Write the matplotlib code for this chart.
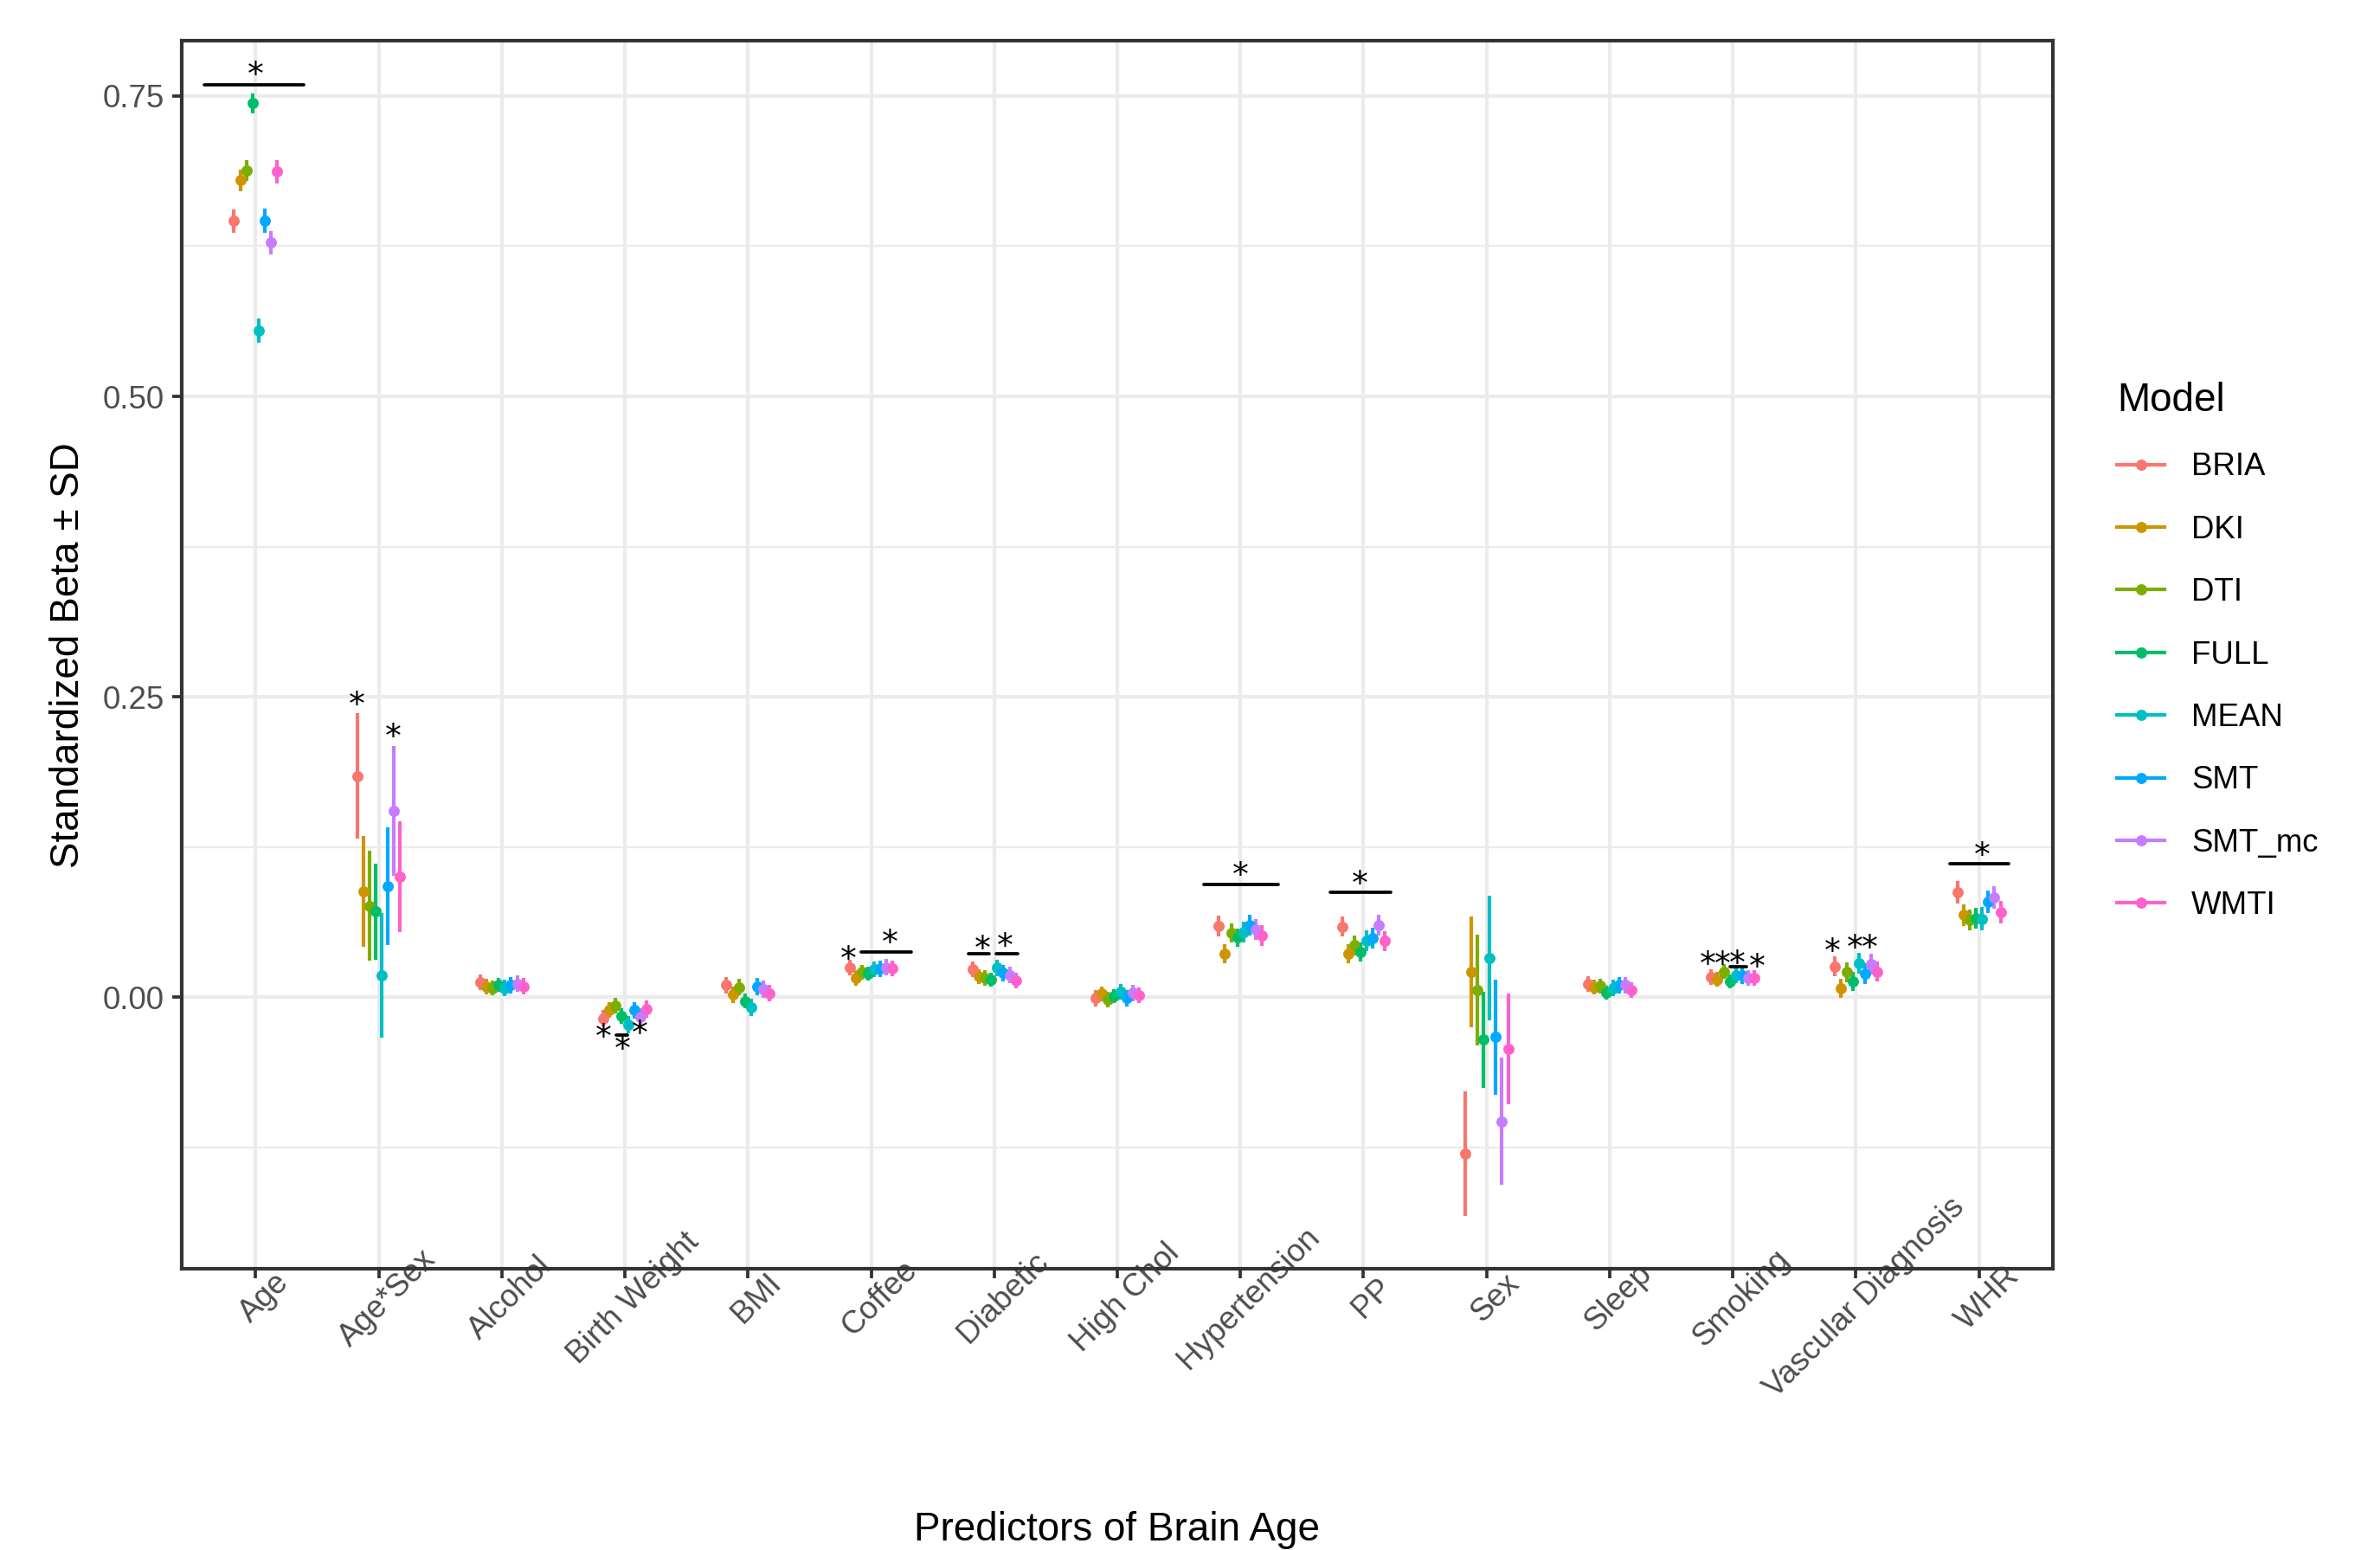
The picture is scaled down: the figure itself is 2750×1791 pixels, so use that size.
import numpy as np
import matplotlib
matplotlib.use('Agg')
import matplotlib.pyplot as plt
from matplotlib.lines import Line2D
from matplotlib.transforms import ScaledTranslation

plt.rcParams['font.family'] = ['Liberation Sans', 'DejaVu Sans']

predictors = ['Age', 'Age*Sex', 'Alcohol', 'Birth Weight', 'BMI', 'Coffee',
              'Diabetic', 'High Chol', 'Hypertension', 'PP', 'Sex', 'Sleep',
              'Smoking', 'Vascular Diagnosis', 'WHR']
models = ['BRIA', 'DKI', 'DTI', 'FULL', 'MEAN', 'SMT', 'SMT_mc', 'WMTI']
colors = ['#F8766D', '#CD9600', '#7CAE00', '#00BE67',
          '#00BFC4', '#00A9FF', '#C77CFF', '#FF61CC']

# standardized betas, one list per model (order of predictors above)
beta_bria = [0.646, 0.184, 0.0122, -0.0178, 0.0099, 0.0243, 0.0231, -0.0010,
             0.0591, 0.0586, -0.1306, 0.0106, 0.0166, 0.0255, 0.0875]
beta_dki = [0.680, 0.088, 0.0086, -0.0110, 0.0019, 0.0158, 0.0171, 0.0026,
            0.0362, 0.0362, 0.0211, 0.0082, 0.0146, 0.0074, 0.0682]
beta_dti = [0.688, 0.076, 0.0074, -0.0070, 0.0082, 0.0206, 0.0159, -0.0022,
            0.0531, 0.0429, 0.0058, 0.0092, 0.0211, 0.0206, 0.0640]
beta_full = [0.744, 0.071, 0.0099, -0.0159, -0.0034, 0.0195, 0.0146, 0.0010,
             0.0495, 0.0375, -0.0355, 0.0038, 0.0127, 0.0130, 0.0656]
beta_mean = [0.555, 0.018, 0.0074, -0.0230, -0.0086, 0.0231, 0.0243, 0.0043,
             0.0543, 0.0466, 0.0326, 0.0074, 0.0182, 0.0284, 0.0651]
beta_smt = [0.646, 0.092, 0.0099, -0.0110, 0.0086, 0.0236, 0.0200, -0.0010,
            0.0596, 0.0490, -0.0334, 0.0099, 0.0178, 0.0195, 0.0791]
beta_smt_mc = [0.628, 0.155, 0.0110, -0.0166, 0.0067, 0.0247, 0.0182, 0.0033,
               0.0562, 0.0596, -0.1034, 0.0099, 0.0159, 0.0272, 0.0827]
beta_wmti = [0.687, 0.100, 0.0090, -0.0101, 0.0031, 0.0236, 0.0135, 0.0014,
             0.0511, 0.0466, -0.0430, 0.0058, 0.0159, 0.0211, 0.0706]

sd_bria = [0.0096, 0.052, 0.0066, 0.0070, 0.0070, 0.0066, 0.0066, 0.0066,
           0.0084, 0.0084, 0.052, 0.0066, 0.0066, 0.0084, 0.0094]
sd_dki = [0.0090, 0.046, 0.0062, 0.0066, 0.0066, 0.0062, 0.0062, 0.0062,
          0.0080, 0.0080, 0.046, 0.0062, 0.0062, 0.0080, 0.0090]
sd_dti = [0.0087, 0.046, 0.0062, 0.0066, 0.0066, 0.0062, 0.0062, 0.0062,
          0.0080, 0.0080, 0.046, 0.0062, 0.0062, 0.0080, 0.0088]
sd_full = [0.0084, 0.040, 0.0058, 0.0062, 0.0062, 0.0058, 0.0058, 0.0058,
           0.0076, 0.0076, 0.040, 0.0058, 0.0058, 0.0076, 0.0084]
sd_mean = [0.0101, 0.052, 0.0068, 0.0072, 0.0072, 0.0068, 0.0068, 0.0068,
           0.0086, 0.0086, 0.052, 0.0068, 0.0068, 0.0086, 0.0095]
sd_smt = [0.0100, 0.049, 0.0067, 0.0070, 0.0070, 0.0067, 0.0067, 0.0067,
          0.0085, 0.0085, 0.048, 0.0067, 0.0067, 0.0085, 0.0094]
sd_smt_mc = [0.0098, 0.054, 0.0068, 0.0072, 0.0072, 0.0068, 0.0068, 0.0068,
             0.0086, 0.0086, 0.053, 0.0068, 0.0068, 0.0086, 0.0095]
sd_wmti = [0.0097, 0.046, 0.0066, 0.0070, 0.0070, 0.0066, 0.0066, 0.0066,
           0.0084, 0.0084, 0.046, 0.0066, 0.0066, 0.0084, 0.0094]

betas = [beta_bria, beta_dki, beta_dti, beta_full,
         beta_mean, beta_smt, beta_smt_mc, beta_wmti]
sds = [sd_bria, sd_dki, sd_dti, sd_full, sd_mean, sd_smt, sd_smt_mc, sd_wmti]

# significance bars: predictor, x start / end (offset in category units), y
bar_pred = ['Age', 'Birth Weight', 'Coffee', 'Diabetic', 'Diabetic',
            'Hypertension', 'PP', 'Smoking', 'WHR']
bar_x0 = [-0.42, -0.074, -0.084, -0.206, 0.016, -0.298, -0.269, -0.022, -0.236]
bar_x1 = [0.39, 0.020, 0.325, -0.038, 0.192, 0.310, 0.223, 0.109, 0.244]
bar_y = [0.759, -0.0317, 0.0375, 0.0362, 0.0362, 0.0939, 0.0872, 0.0255, 0.1112]

# stars: predictor, x offset, y
star_pred = ['Age', 'Age*Sex', 'Age*Sex', 'Birth Weight', 'Birth Weight',
             'Birth Weight', 'Coffee', 'Coffee', 'Diabetic', 'Diabetic',
             'Hypertension', 'PP', 'Smoking', 'Smoking', 'Smoking', 'Smoking',
             'Vascular Diagnosis', 'Vascular Diagnosis', 'Vascular Diagnosis',
             'WHR']
star_dx = [0.0, -0.175, 0.12, -0.172, -0.02, 0.12, -0.183, 0.15, -0.096, 0.086,
           0.0, -0.03, -0.2, -0.086, 0.033, 0.196, -0.189, -0.008, 0.113, 0.024]
star_y = [0.772, 0.248, 0.221, -0.0286, -0.039, -0.026, 0.0362, 0.0499,
          0.0447, 0.0467, 0.1059, 0.0987, 0.0315, 0.0315, 0.0322, 0.0299,
          0.0423, 0.0452, 0.0452, 0.1228]

fig = plt.figure(figsize=(2750 / 300, 1791 / 300), dpi=300)
ax = fig.add_axes([210 / 2750, 1 - 1466 / 1791, 2162 / 2750, 1419 / 1791])

xpos = np.arange(len(predictors))
dodge = 0.4
n = len(models)
for j, (m, c) in enumerate(zip(models, colors)):
    off = (j - (n - 1) / 2) * dodge / n
    b = np.array(betas[j])
    s = np.array(sds[j])
    ax.vlines(xpos + off, b - s, b + s, color=c, linewidth=1.0, zorder=3)
    ax.plot(xpos + off, b, 'o', color=c, markersize=3.1, markeredgewidth=0,
            zorder=4)

for p, x0, x1, y in zip(bar_pred, bar_x0, bar_x1, bar_y):
    i = predictors.index(p)
    ax.plot([i + x0, i + x1], [y, y], color='black', linewidth=0.9,
            solid_capstyle='round', zorder=5)

# the asterisk glyph sits high in its box, nudge it down a little
star_shift = ScaledTranslation(0, -8 / 300, fig.dpi_scale_trans)
for p, dx, y in zip(star_pred, star_dx, star_y):
    i = predictors.index(p)
    ax.text(i + dx, y, '*', ha='center', va='center', fontsize=9,
            family='DejaVu Sans', color='black', zorder=6,
            transform=ax.transData + star_shift)

ax.set_xlim(-0.6, len(predictors) - 0.4)
ax.set_ylim(-0.2262, 0.7961)
ax.set_xticks(xpos)
ax.set_xticklabels(predictors)
ax.set_yticks([0.0, 0.25, 0.5, 0.75])
ax.set_yticklabels(['0.00', '0.25', '0.50', '0.75'])
ax.set_yticks([-0.125, 0.125, 0.375, 0.625], minor=True)

ax.grid(which='major', color='#EBEBEB', linewidth=1.0, zorder=0)
ax.grid(which='minor', axis='y', color='#EBEBEB', linewidth=0.55, zorder=0)
ax.set_axisbelow(True)
for sp in ax.spines.values():
    sp.set_color('#333333')
    sp.set_linewidth(1.0)
ax.tick_params(which='major', length=2.75, width=0.9, color='#333333',
               labelcolor='#4D4D4D', labelsize=8.8, pad=2.2)
ax.tick_params(which='minor', length=0)
ax.tick_params(axis='x', pad=5.4)

shift = ScaledTranslation(10 / 300, 0, fig.dpi_scale_trans)
for lab in ax.get_xticklabels():
    lab.set_rotation(45)
    lab.set_rotation_mode('anchor')
    lab.set_ha('center')
    lab.set_va('center')
    lab.set_transform(lab.get_transform() + shift)

fig.text(79 / 2750, 1 - 757 / 1791, 'Standardized Beta ± SD', rotation=90,
         ha='center', va='center', fontsize=11)
fig.text(1291 / 2750, 1 - 1768 / 1791, 'Predictors of Brain Age',
         ha='center', va='center', fontsize=11)

handles = [Line2D([], [], color=c, marker='o', markersize=3.1,
                  markeredgewidth=0, linewidth=1.0) for c in colors]
leg = ax.legend(handles, models, title='Model', loc='upper left',
                bbox_to_anchor=(2446 / 2750, 1 - 441 / 1791),
                bbox_transform=fig.transFigure, frameon=False,
                fontsize=8.8, title_fontsize=11, handlelength=1.5,
                handletextpad=0.85, labelspacing=1.02, borderpad=0,
                borderaxespad=0, alignment='left')

fig.savefig('out.png', dpi=300)
